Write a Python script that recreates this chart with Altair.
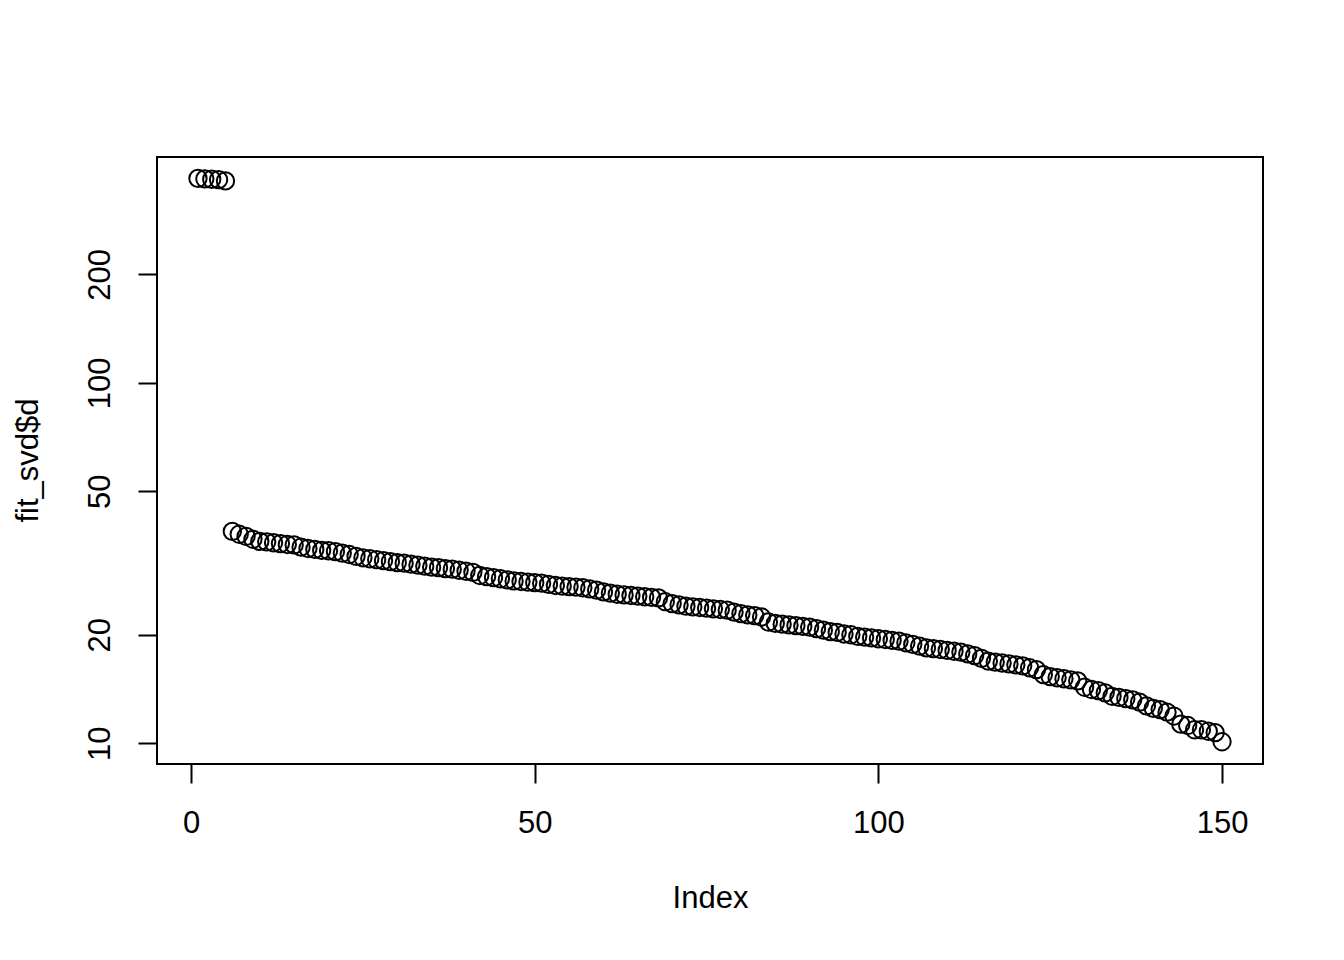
import altair as alt
import pandas as pd

# Singular values (fit_svd$d)
values = [
    369, 368, 367, 366, 363,
    38.7, 38.0, 37.5, 36.8, 36.3, 36.2, 36.0, 35.8, 35.6, 35.5,
    35.0, 34.7, 34.5, 34.3, 34.2, 34.0, 33.7, 33.4, 33.0, 32.7,
    32.5, 32.3, 32.1, 31.9, 31.7, 31.6, 31.4, 31.2, 31.0, 30.8,
    30.7, 30.5, 30.4, 30.2, 30.0, 29.8, 29.2, 29.0, 28.8, 28.6,
    28.4, 28.2, 28.1, 28.0, 27.9, 27.8, 27.6, 27.4, 27.3, 27.2,
    27.1, 27.0, 26.8, 26.6, 26.3, 26.1, 25.9, 25.8, 25.7, 25.6,
    25.5, 25.4, 25.3, 24.7, 24.4, 24.2, 24.0, 23.9, 23.8, 23.7,
    23.6, 23.5, 23.4, 23.1, 22.9, 22.7, 22.6, 22.4, 21.7, 21.5,
    21.4, 21.3, 21.2, 21.1, 21.0, 20.8, 20.6, 20.4, 20.3, 20.1,
    20.0, 19.8, 19.7, 19.6, 19.5, 19.4, 19.3, 19.2, 19.0, 18.8,
    18.6, 18.4, 18.3, 18.2, 18.1, 18.0, 17.9, 17.7, 17.5, 17.2,
    16.9, 16.8, 16.7, 16.6, 16.5, 16.4, 16.2, 16.0, 15.5, 15.3,
    15.2, 15.1, 15.0, 14.9, 14.3, 14.1, 14.0, 13.8, 13.5, 13.4,
    13.3, 13.2, 13.0, 12.7, 12.5, 12.4, 12.2, 11.9, 11.3, 11.2,
    10.9, 10.9, 10.8, 10.7, 10.1,
]
index = list(range(1, len(values) + 1))

x_ticks = [0, 50, 100, 150]
y_ticks = [10, 20, 50, 100, 200]

df = pd.DataFrame({"Index": index, "d": values})

FONT = "Liberation Sans"
FS = 31
W, H = 1106, 607

points = (
    alt.Chart(df)
    .mark_point(shape="circle", filled=False, color="black", size=300, strokeWidth=2, opacity=1)
    .encode(
        x=alt.X(
            "Index:Q",
            scale=alt.Scale(domain=[-4.96, 155.96], nice=False, zero=False),
            axis=alt.Axis(
                values=x_ticks,
                domain=False,
                grid=False,
                tickSize=19,
                tickWidth=2,
                tickColor="black",
                labelFont=FONT,
                labelFontSize=FS,
                labelColor="black",
                labelPadding=25,
                labelBaseline="top",
                title="Index",
                titleFont=FONT,
                titleFontSize=FS,
                titleFontWeight="normal",
                titleColor="black",
                titleY=134,
                titleBaseline="middle",
            ),
        ),
        y=alt.Y(
            "d:Q",
            scale=alt.Scale(type="log", domain=[8.76, 423], nice=False, zero=False),
            axis=alt.Axis(
                values=y_ticks,
                format="d",
                domain=False,
                grid=False,
                tickSize=19,
                tickWidth=2,
                tickColor="black",
                labelFont=FONT,
                labelFontSize=FS,
                labelColor="black",
                labelAngle=270,
                labelAlign="center",
                labelBaseline="bottom",
                labelPadding=22,
                title="fit_svd$d",
                titleFont=FONT,
                titleFontSize=FS,
                titleFontWeight="normal",
                titleColor="black",
                titleAngle=270,
                titleX=-129,
                titleY=303,
                titleAlign="center",
                titleBaseline="middle",
            ),
        ),
    )
)

frame = (
    alt.Chart(pd.DataFrame({"k": [0]}))
    .mark_rect(fill=None, fillOpacity=0, stroke="black", strokeWidth=2)
    .encode(
        x=alt.value(0),
        x2=alt.value(W),
        y=alt.value(0),
        y2=alt.value(H),
    )
)

chart = (
    alt.layer(points, frame)
    .properties(
        width=W,
        height=H,
        autosize=alt.AutoSizeParams(type="none"),
        padding={"left": 149, "top": 149, "right": 60, "bottom": 180},
    )
    .configure_view(stroke=None, fill="white")
    .configure(background="white")
)

chart.save("out.html", embed_options={"renderer": "svg", "actions": False})
